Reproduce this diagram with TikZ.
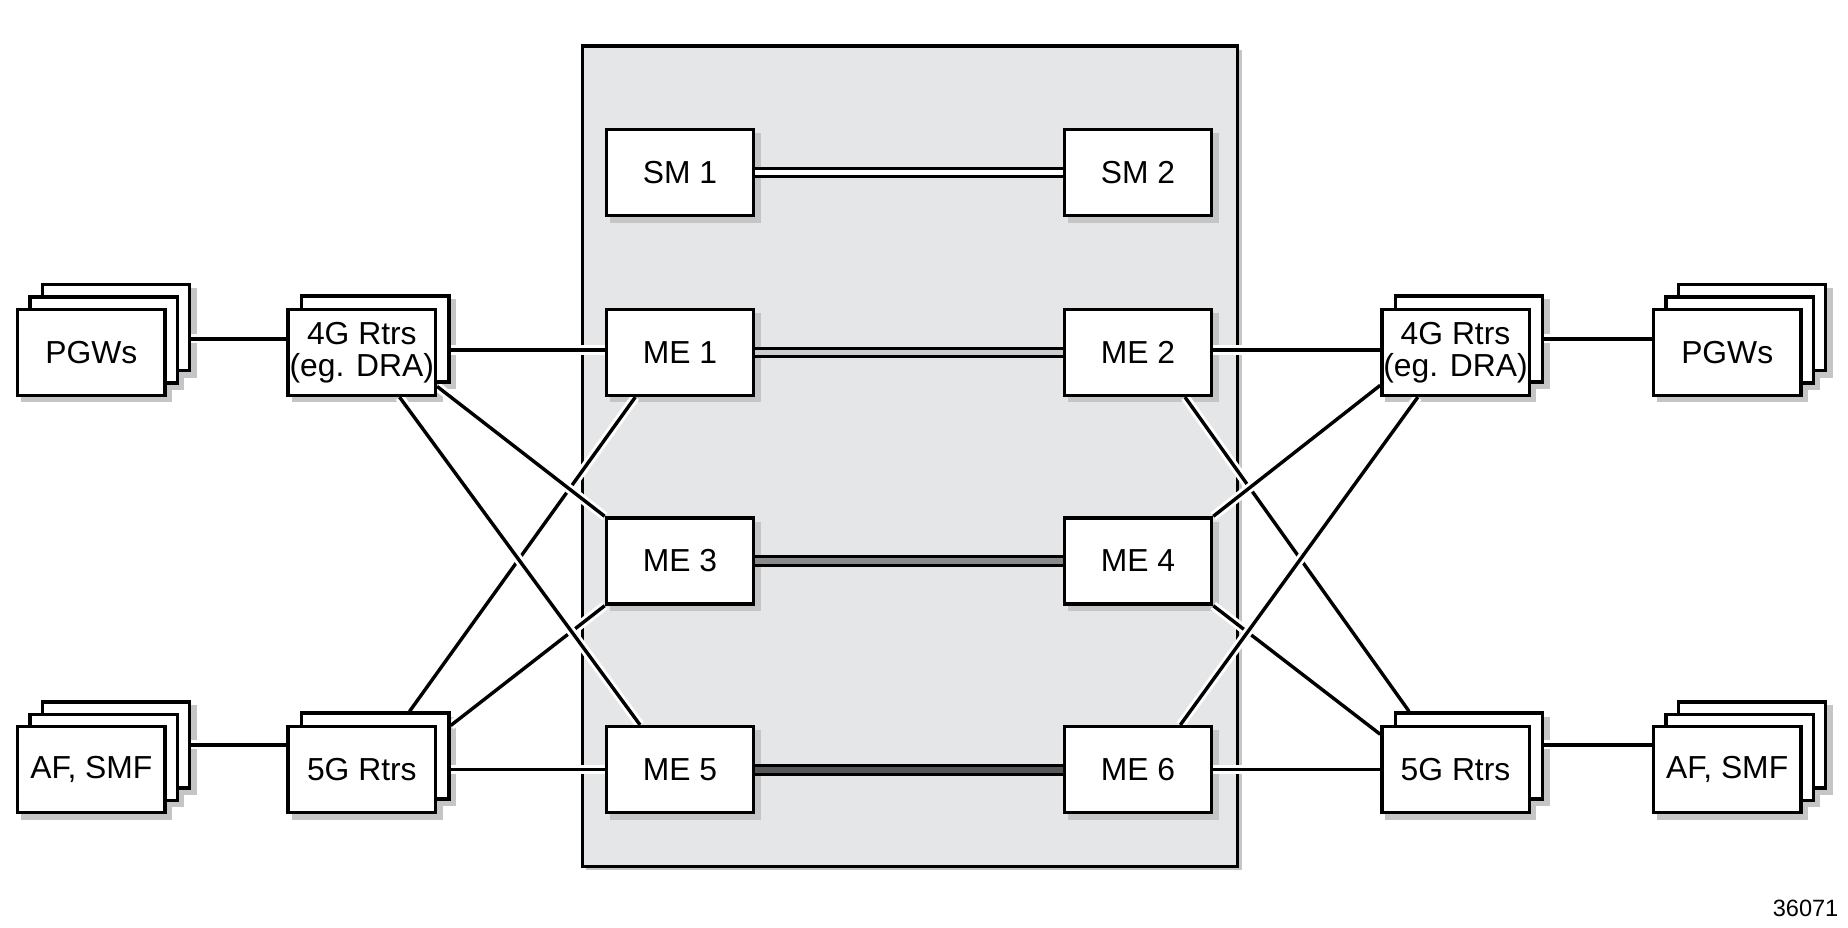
\documentclass[tikz,border=0pt]{standalone}
\usepackage{fontspec}
\setmainfont{Liberation Sans}
\usetikzlibrary{calc}

\pgfdeclarelayer{background}
\pgfdeclarelayer{shades}
\pgfdeclarelayer{wires}
\pgfsetlayers{background,shades,wires,main}

\definecolor{panelgray}{HTML}{E5E6E7}
\definecolor{shadowgray}{HTML}{C4C5C6}
\definecolor{linkA}{HTML}{FFFFFF}
\definecolor{linkB}{HTML}{CCCCCC}
\definecolor{linkC}{HTML}{8A8A8A}
\definecolor{linkD}{HTML}{575757}

\tikzset{
  unitbox/.style={draw=black, line width=2.9pt, fill=white,
    minimum width=125pt, minimum height=73pt, inner sep=0pt,
    align=center, font=\fontsize{27}{27}\selectfont},
  panelbox/.style={draw=black, line width=2.9pt, fill=panelgray,
    minimum width=556pt, minimum height=696pt, inner sep=0pt},
  wire/.style={line width=2.9pt, preaction={draw=white, line width=7.8pt}},
  trunk/.style={line width=2.5pt, double=#1, double distance=4.4pt},
  shade/.style={fill=shadowgray}
}

\begin{document}
\begin{tikzpicture}[x=1pt, y=-1pt]
\useasboundingbox (0,0) rectangle (1568,787);

% ---- central cluster panel, behind everything ----
\begin{pgfonlayer}{background}
  \fill[shade] (497.5,42.5) rectangle (1053.5,738.5);
  \node[panelbox] (panel) at (772,387) {};
\end{pgfonlayer}

% ---- managers and engines ----
\node[unitbox] (SM1) at (577,146.5) {SM 1};
\node[unitbox] (SM2) at (965.5,146.5) {SM 2};
\node[unitbox] (ME1) at (577,299) {ME 1};
\node[unitbox] (ME2) at (965.5,299) {ME 2};
\node[unitbox] (ME3) at (577,476) {ME 3};
\node[unitbox] (ME4) at (965.5,476) {ME 4};
\node[unitbox] (ME5) at (577,653) {ME 5};
\node[unitbox] (ME6) at (965.5,653) {ME 6};

% ---- left side stacks ----
\node[unitbox] (Lpgw3) at (98.5,278) {};
\node[unitbox] (Lpgw2) at (88,288.5) {};
\node[unitbox] (Lpgw)  at (77.5,299) {PGWs};
\node[unitbox] (L4Gb)  at (318.5,287.5) {};
\node[unitbox] (L4G)   at (307,299) {4G Rtrs\\(eg. DRA)};
\node[unitbox] (Laf3)  at (98.5,632) {};
\node[unitbox] (Laf2)  at (88,642.5) {};
\node[unitbox] (Laf)   at (77.5,653) {AF, SMF};
\node[unitbox] (L5Gb)  at (318.5,641.5) {};
\node[unitbox] (L5G)   at (307,653) {5G Rtrs};

% ---- right side stacks ----
\node[unitbox] (R4Gb)  at (1246.5,287.5) {};
\node[unitbox] (R4G)   at (1235,299) {4G Rtrs\\(eg. DRA)};
\node[unitbox] (Rpgw3) at (1486.5,278) {};
\node[unitbox] (Rpgw2) at (1476,288.5) {};
\node[unitbox] (Rpgw)  at (1465.5,299) {PGWs};
\node[unitbox] (R5Gb)  at (1246.5,641.5) {};
\node[unitbox] (R5G)   at (1235,653) {5G Rtrs};
\node[unitbox] (Raf3)  at (1486.5,632) {};
\node[unitbox] (Raf2)  at (1476,642.5) {};
\node[unitbox] (Raf)   at (1465.5,653) {AF, SMF};

% ---- drop shadows under every box ----
\begin{pgfonlayer}{shades}
  \foreach \n in {SM1,SM2,ME1,ME2,ME3,ME4,ME5,ME6,
                  Lpgw3,Lpgw2,Lpgw,L4Gb,L4G,Laf3,Laf2,Laf,L5Gb,L5G,
                  R4Gb,R4G,Rpgw3,Rpgw2,Rpgw,R5Gb,R5G,Raf3,Raf2,Raf}
    \fill[shade] ($(\n.south west)+(4.5,4.5)$) rectangle ($(\n.north east)+(4.5,4.5)$);
\end{pgfonlayer}

\begin{pgfonlayer}{wires}
  % pair links
  \draw[trunk=linkA] (SM1.east) -- (SM2.west);
  \draw[trunk=linkB] (ME1.east) -- (ME2.west);
  \draw[trunk=linkC] (ME3.east) -- (ME4.west);
  \draw[trunk=linkD, double distance=5.2pt] (ME5.east) -- (ME6.west);

  % access links
  \draw[wire] (Lpgw3.east |- L4Gb.center) -- (L4G.west |- L4Gb.center);
  \draw[wire] (Laf3.east) -- (L5G.west |- Laf3.east);
  \draw[wire] (R4Gb.east) -- (Rpgw.west |- R4Gb.east);
  \draw[wire] (R5Gb.east |- Raf3.center) -- (Raf.west |- Raf3.center);

  \draw[wire] ($(L4Gb.east |- ME1.west)+(0,-2)$) -- ($(ME1.west)+(0,-2)$);
  \draw[wire] (L5Gb.east |- ME5.west) -- (ME5.west);
  \draw[wire] ($(ME2.east)+(0,-2)$) -- ($(R4G.west |- ME2.east)+(0,-2)$);
  \draw[wire] (ME6.east) -- (R5G.west |- ME6.east);

  % cross links, lower ones first
  \draw[wire] ($(ME1.south west)+(26,0)$) -- ($(L5Gb.north)+(29,0)$);
  \draw[wire] ($(ME2.south east)+(-24,0)$) -- ($(R5Gb.north west)+(13,0)$);
  \draw[wire] (ME3.south west) -- ($(L5Gb.north east)+(0,12)$);
  \draw[wire] (ME4.south east) -- ($(R5G.west)+(0,-30)$);
  \draw[wire] ($(L4G.south east)+(0,-9)$) -- (ME3.north west);
  \draw[wire] ($(L4G.south)+(32,0)$) -- ($(ME5.north west)+(30,0)$);
  \draw[wire] (ME4.north east) -- ($(R4G.south west)+(0,-10)$);
  \draw[wire] ($(ME6.north)+(36,0)$) -- ($(R4G.south)+(-32,0)$);
\end{pgfonlayer}

\node[anchor=base east, font=\fontsize{20}{24}\selectfont, inner sep=0pt] (fignum) at (1560,778) {36071};
\end{tikzpicture}
\end{document}
